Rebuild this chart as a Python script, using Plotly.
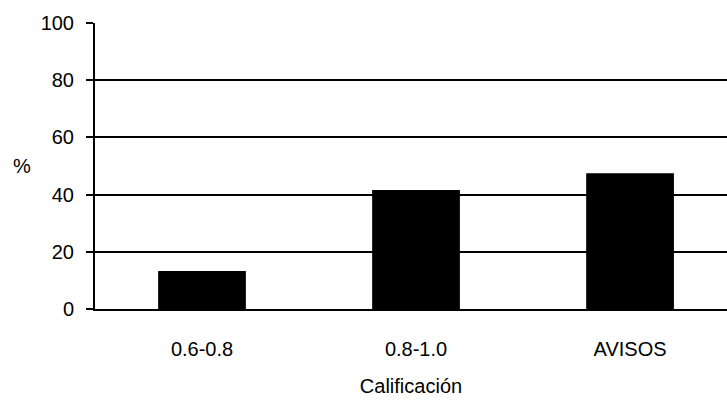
import plotly.graph_objects as go

categories = ["0.6-0.8", "0.8-1.0", "AVISOS"]
values = [13.3, 41.6, 47.5]
y_ticks = [0, 20, 40, 60, 80, 100]

FONT = "Liberation Sans Narrow, Arial Narrow, Liberation Sans, Arial"
FS = 20

fig = go.Figure()
fig.add_trace(go.Bar(
    x=list(range(len(categories))),
    y=values,
    width=0.41,
    marker=dict(color="black", line=dict(width=0)),
))

fig.update_layout(
    width=727, height=403,
    margin=dict(l=95, r=0, t=23, b=94),
    paper_bgcolor="white", plot_bgcolor="white",
    showlegend=False,
    font=dict(family=FONT, size=FS, color="black"),
    xaxis=dict(
        range=[-0.5, 2.453],
        tickmode="array",
        tickvals=list(range(len(categories))),
        ticktext=categories,
        showgrid=False,
        showline=True, linecolor="black", linewidth=2,
        ticks="", ticklabelstandoff=21,
        zeroline=False,
        title=dict(text="Calificación", standoff=20, font=dict(size=FS)),
    ),
    yaxis=dict(
        range=[0, 100],
        tickmode="array",
        tickvals=y_ticks,
        showgrid=True, gridcolor="black", gridwidth=1.6,
        showline=True, linecolor="black", linewidth=2,
        ticks="outside", ticklen=7, tickcolor="black", tickwidth=1.5,
        ticklabelstandoff=8,
        zeroline=False,
    ),
)
fig.add_annotation(
    text="%", xref="paper", yref="paper", x=-0.115, y=0.5,
    xanchor="center", yanchor="middle", showarrow=False,
    font=dict(family=FONT, size=FS, color="black"),
)

fig.write_html("out.html")
